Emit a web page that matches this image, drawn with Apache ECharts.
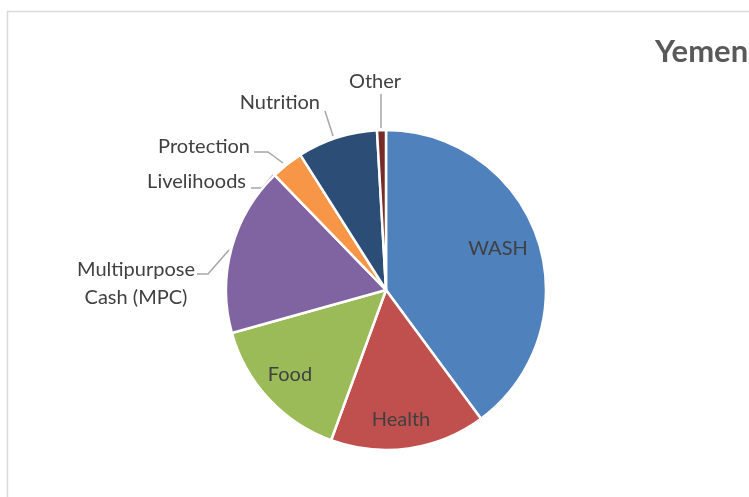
<!DOCTYPE html>
<html><head><meta charset="utf-8">
<script src="https://cdn.jsdelivr.net/npm/echarts@6/dist/echarts.min.js"></script>
<style>html,body{margin:0;padding:0;background:#fff}#c{width:749px;height:497px}</style>
</head><body><div id="c"></div>
<script>
const categories = ["WASH","Health","Food","Multipurpose\nCash (MPC)","Livelihoods","Protection","Nutrition","Other"];
const shares = [39.9, 15.7, 15.1, 17.1, 0, 3.25, 8.1, 0.9];
const colors = ["#4F81BD","#C0504D","#9BBB59","#8064A2","#4BACC6","#F79646","#2C4D75","#772C2A"];
const insideLabels = [true, true, true, false, false, false, false, false];
const titleText = "Yemen";

// label anchors & leader lines (styling / placement only)
const labelPlace = [
  {x:498, y:249, align:'center'},
  {x:401, y:420, align:'center'},
  {x:290, y:375, align:'center'},
  {x:136, y:284, align:'center', line:[[197,274],[208,274],[229,250]]},
  {x:246, y:182, align:'right', line:[[251,188],[262,188],[273,175]]},
  {x:250, y:147, align:'right', line:[[254,152],[268,152],[283,163]]},
  {x:320, y:103, align:'right', line:[[325,111],[333,136]]},
  {x:375, y:82, align:'center', line:[[381,94],[381,128]]}
];

const chart = echarts.init(document.getElementById('c'), null, {renderer:'canvas'});
const data = categories.map((n,i)=>({
  name:n, value:shares[i],
  itemStyle:{color:colors[i]},
  label:{position: insideLabels[i] ? 'inside' : 'outside'},
  labelLine:{show: !insideLabels[i]}
}));
chart.setOption({
  animation:false,
  graphic:[
    {type:'rect', shape:{x:7.5, y:11.5, width:800, height:600}, style:{fill:'none', stroke:'#d9d9d9', lineWidth:1.5}, silent:true},
    {type:'text', left:655, top:36, style:{text:titleText, font:'bold 31px Lato', fill:'#595959'}}
  ],
  series:[{
    type:'pie',
    center:[386,290],
    radius:[0,160],
    startAngle:90,
    clockwise:true,
    avoidLabelOverlap:false,
    itemStyle:{borderColor:'#fff', borderWidth:2.5},
    label:{color:'#404040', fontFamily:'Lato', fontSize:20, lineHeight:28},
    labelLine:{lineStyle:{color:'#a6a6a6', width:1.5}, length:10, length2:10},
    labelLayout:function(p){
      const q = labelPlace[p.dataIndex];
      const r = {x:q.x, y:q.y, align:q.align, verticalAlign:'middle'};
      if (q.line) r.labelLinePoints = q.line;
      return r;
    },
    data:data
  }]
});
</script></body></html>
